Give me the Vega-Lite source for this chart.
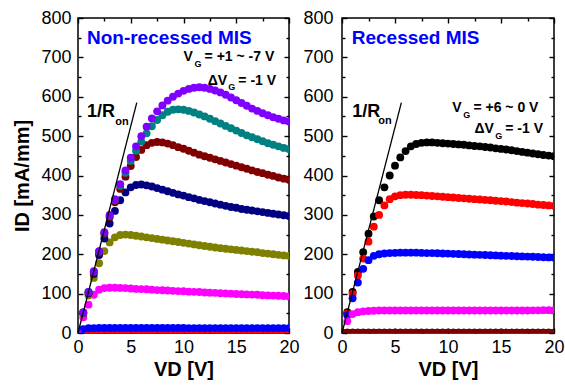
{
"$schema": "https://vega.github.io/schema/vega-lite/v6.json",
"padding": {"left": 12, "top": 8, "right": 0, "bottom": 0},
"spacing": 2,
"config": {
  "font": "Liberation Sans",
  "view": {"stroke": "#000000", "strokeWidth": 1.5},
  "axis": {"labelFont": "Liberation Sans", "labelFontSize": 18, "labelColor": "#000000", "titleFont": "Liberation Sans", "titleFontSize": 20, "titleFontWeight": "bold", "titleColor": "#000000", "tickColor": "#000000", "tickWidth": 1.4, "domain": false, "grid": false, "labelFlush": false, "labelOverlap": false, "zindex": 1}
},
"datasets": {
"nonrecessed": [
{"VG":"-7","VD":0,"ID":0},{"VG":"-7","VD":0.5,"ID":0},{"VG":"-7","VD":1,"ID":0},{"VG":"-7","VD":1.5,"ID":0},{"VG":"-7","VD":2,"ID":0},{"VG":"-7","VD":2.5,"ID":0},{"VG":"-7","VD":3,"ID":0},{"VG":"-7","VD":3.5,"ID":0},{"VG":"-7","VD":4,"ID":0},{"VG":"-7","VD":4.5,"ID":0},{"VG":"-7","VD":5,"ID":0},{"VG":"-7","VD":5.5,"ID":0},{"VG":"-7","VD":6,"ID":0},{"VG":"-7","VD":6.5,"ID":0},{"VG":"-7","VD":7,"ID":0},{"VG":"-7","VD":7.5,"ID":0},{"VG":"-7","VD":8,"ID":0},{"VG":"-7","VD":8.5,"ID":0},{"VG":"-7","VD":9,"ID":0},{"VG":"-7","VD":9.5,"ID":0},{"VG":"-7","VD":10,"ID":0},{"VG":"-7","VD":10.5,"ID":0},{"VG":"-7","VD":11,"ID":0},{"VG":"-7","VD":11.5,"ID":0},{"VG":"-7","VD":12,"ID":0},{"VG":"-7","VD":12.5,"ID":0},{"VG":"-7","VD":13,"ID":0},{"VG":"-7","VD":13.5,"ID":0},{"VG":"-7","VD":14,"ID":0},{"VG":"-7","VD":14.5,"ID":0},{"VG":"-7","VD":15,"ID":0},{"VG":"-7","VD":15.5,"ID":0},{"VG":"-7","VD":16,"ID":0},{"VG":"-7","VD":16.5,"ID":0},{"VG":"-7","VD":17,"ID":0},{"VG":"-7","VD":17.5,"ID":0},{"VG":"-7","VD":18,"ID":0},{"VG":"-7","VD":18.5,"ID":0},{"VG":"-7","VD":19,"ID":0},{"VG":"-7","VD":19.5,"ID":0},{"VG":"-7","VD":20,"ID":0},
{"VG":"-6","VD":0,"ID":0},{"VG":"-6","VD":0.5,"ID":0.5},{"VG":"-6","VD":1,"ID":0.5},{"VG":"-6","VD":1.5,"ID":0.5},{"VG":"-6","VD":2,"ID":0.5},{"VG":"-6","VD":2.5,"ID":0.5},{"VG":"-6","VD":3,"ID":0.5},{"VG":"-6","VD":3.5,"ID":0.5},{"VG":"-6","VD":4,"ID":0.5},{"VG":"-6","VD":4.5,"ID":0.5},{"VG":"-6","VD":5,"ID":0.5},{"VG":"-6","VD":5.5,"ID":0.5},{"VG":"-6","VD":6,"ID":0.5},{"VG":"-6","VD":6.5,"ID":0.5},{"VG":"-6","VD":7,"ID":0.5},{"VG":"-6","VD":7.5,"ID":0.5},{"VG":"-6","VD":8,"ID":0.5},{"VG":"-6","VD":8.5,"ID":0.5},{"VG":"-6","VD":9,"ID":0.5},{"VG":"-6","VD":9.5,"ID":0.5},{"VG":"-6","VD":10,"ID":0.5},{"VG":"-6","VD":10.5,"ID":0.5},{"VG":"-6","VD":11,"ID":0.5},{"VG":"-6","VD":11.5,"ID":0.5},{"VG":"-6","VD":12,"ID":0.5},{"VG":"-6","VD":12.5,"ID":0.5},{"VG":"-6","VD":13,"ID":0.5},{"VG":"-6","VD":13.5,"ID":0.5},{"VG":"-6","VD":14,"ID":0.5},{"VG":"-6","VD":14.5,"ID":0.5},{"VG":"-6","VD":15,"ID":0.5},{"VG":"-6","VD":15.5,"ID":0.5},{"VG":"-6","VD":16,"ID":0.5},{"VG":"-6","VD":16.5,"ID":0.5},{"VG":"-6","VD":17,"ID":0.5},{"VG":"-6","VD":17.5,"ID":0.5},{"VG":"-6","VD":18,"ID":0.5},{"VG":"-6","VD":18.5,"ID":0.5},{"VG":"-6","VD":19,"ID":0.5},{"VG":"-6","VD":19.5,"ID":0.5},{"VG":"-6","VD":20,"ID":0.5},
{"VG":"-5","VD":0,"ID":2},{"VG":"-5","VD":0.5,"ID":10},{"VG":"-5","VD":1,"ID":12},{"VG":"-5","VD":1.5,"ID":12.5},{"VG":"-5","VD":2,"ID":13},{"VG":"-5","VD":2.5,"ID":13},{"VG":"-5","VD":3,"ID":13},{"VG":"-5","VD":3.5,"ID":13},{"VG":"-5","VD":4,"ID":13},{"VG":"-5","VD":4.5,"ID":13},{"VG":"-5","VD":5,"ID":13},{"VG":"-5","VD":5.5,"ID":13},{"VG":"-5","VD":6,"ID":13},{"VG":"-5","VD":6.5,"ID":13},{"VG":"-5","VD":7,"ID":13},{"VG":"-5","VD":7.5,"ID":13},{"VG":"-5","VD":8,"ID":13},{"VG":"-5","VD":8.5,"ID":13},{"VG":"-5","VD":9,"ID":13},{"VG":"-5","VD":9.5,"ID":13},{"VG":"-5","VD":10,"ID":13},{"VG":"-5","VD":10.5,"ID":12.5},{"VG":"-5","VD":11,"ID":12.5},{"VG":"-5","VD":11.5,"ID":12.5},{"VG":"-5","VD":12,"ID":12.5},{"VG":"-5","VD":12.5,"ID":12.5},{"VG":"-5","VD":13,"ID":12.5},{"VG":"-5","VD":13.5,"ID":12.5},{"VG":"-5","VD":14,"ID":12.5},{"VG":"-5","VD":14.5,"ID":12.5},{"VG":"-5","VD":15,"ID":12.5},{"VG":"-5","VD":15.5,"ID":12.5},{"VG":"-5","VD":16,"ID":12.5},{"VG":"-5","VD":16.5,"ID":12.5},{"VG":"-5","VD":17,"ID":12.5},{"VG":"-5","VD":17.5,"ID":12.5},{"VG":"-5","VD":18,"ID":12.5},{"VG":"-5","VD":18.5,"ID":12.5},{"VG":"-5","VD":19,"ID":12.5},{"VG":"-5","VD":19.5,"ID":12.5},{"VG":"-5","VD":20,"ID":12.5},
{"VG":"-4","VD":0,"ID":0},{"VG":"-4","VD":0.5,"ID":40},{"VG":"-4","VD":1,"ID":72},{"VG":"-4","VD":1.5,"ID":97},{"VG":"-4","VD":2,"ID":110},{"VG":"-4","VD":2.5,"ID":114},{"VG":"-4","VD":3,"ID":115},{"VG":"-4","VD":3.5,"ID":115},{"VG":"-4","VD":4,"ID":114.5},{"VG":"-4","VD":4.5,"ID":114},{"VG":"-4","VD":5,"ID":113},{"VG":"-4","VD":5.5,"ID":112},{"VG":"-4","VD":6,"ID":111.5},{"VG":"-4","VD":6.5,"ID":111},{"VG":"-4","VD":7,"ID":110},{"VG":"-4","VD":7.5,"ID":109},{"VG":"-4","VD":8,"ID":108.5},{"VG":"-4","VD":8.5,"ID":108},{"VG":"-4","VD":9,"ID":107},{"VG":"-4","VD":9.5,"ID":106.5},{"VG":"-4","VD":10,"ID":106},{"VG":"-4","VD":10.5,"ID":105},{"VG":"-4","VD":11,"ID":104.5},{"VG":"-4","VD":11.5,"ID":104},{"VG":"-4","VD":12,"ID":103},{"VG":"-4","VD":12.5,"ID":102.5},{"VG":"-4","VD":13,"ID":102},{"VG":"-4","VD":13.5,"ID":101},{"VG":"-4","VD":14,"ID":100.5},{"VG":"-4","VD":14.5,"ID":100},{"VG":"-4","VD":15,"ID":99},{"VG":"-4","VD":15.5,"ID":98.5},{"VG":"-4","VD":16,"ID":98},{"VG":"-4","VD":16.5,"ID":97.5},{"VG":"-4","VD":17,"ID":97},{"VG":"-4","VD":17.5,"ID":96},{"VG":"-4","VD":18,"ID":95.5},{"VG":"-4","VD":18.5,"ID":95},{"VG":"-4","VD":19,"ID":94.5},{"VG":"-4","VD":19.5,"ID":94},{"VG":"-4","VD":20,"ID":93},
{"VG":"-3","VD":0,"ID":0},{"VG":"-3","VD":0.5,"ID":48},{"VG":"-3","VD":1,"ID":95},{"VG":"-3","VD":1.5,"ID":140},{"VG":"-3","VD":2,"ID":177},{"VG":"-3","VD":2.5,"ID":208},{"VG":"-3","VD":3,"ID":230},{"VG":"-3","VD":3.5,"ID":243},{"VG":"-3","VD":4,"ID":249},{"VG":"-3","VD":4.5,"ID":250},{"VG":"-3","VD":5,"ID":249},{"VG":"-3","VD":5.5,"ID":247},{"VG":"-3","VD":6,"ID":245},{"VG":"-3","VD":6.5,"ID":243},{"VG":"-3","VD":7,"ID":241},{"VG":"-3","VD":7.5,"ID":239},{"VG":"-3","VD":8,"ID":237},{"VG":"-3","VD":8.5,"ID":235},{"VG":"-3","VD":9,"ID":233},{"VG":"-3","VD":9.5,"ID":231},{"VG":"-3","VD":10,"ID":229},{"VG":"-3","VD":10.5,"ID":227},{"VG":"-3","VD":11,"ID":225},{"VG":"-3","VD":11.5,"ID":223},{"VG":"-3","VD":12,"ID":221},{"VG":"-3","VD":12.5,"ID":219},{"VG":"-3","VD":13,"ID":217},{"VG":"-3","VD":13.5,"ID":215.5},{"VG":"-3","VD":14,"ID":214},{"VG":"-3","VD":14.5,"ID":212.5},{"VG":"-3","VD":15,"ID":211},{"VG":"-3","VD":15.5,"ID":209.5},{"VG":"-3","VD":16,"ID":208},{"VG":"-3","VD":16.5,"ID":206.5},{"VG":"-3","VD":17,"ID":205},{"VG":"-3","VD":17.5,"ID":203},{"VG":"-3","VD":18,"ID":201.5},{"VG":"-3","VD":18.5,"ID":200},{"VG":"-3","VD":19,"ID":198.5},{"VG":"-3","VD":19.5,"ID":197},{"VG":"-3","VD":20,"ID":196},
{"VG":"-2","VD":0,"ID":0},{"VG":"-2","VD":0.5,"ID":51},{"VG":"-2","VD":1,"ID":101},{"VG":"-2","VD":1.5,"ID":150},{"VG":"-2","VD":2,"ID":198},{"VG":"-2","VD":2.5,"ID":240},{"VG":"-2","VD":3,"ID":278},{"VG":"-2","VD":3.5,"ID":310},{"VG":"-2","VD":4,"ID":337},{"VG":"-2","VD":4.5,"ID":357},{"VG":"-2","VD":5,"ID":370},{"VG":"-2","VD":5.5,"ID":376},{"VG":"-2","VD":6,"ID":377},{"VG":"-2","VD":6.5,"ID":375},{"VG":"-2","VD":7,"ID":372},{"VG":"-2","VD":7.5,"ID":368},{"VG":"-2","VD":8,"ID":364},{"VG":"-2","VD":8.5,"ID":360},{"VG":"-2","VD":9,"ID":356},{"VG":"-2","VD":9.5,"ID":352},{"VG":"-2","VD":10,"ID":349},{"VG":"-2","VD":10.5,"ID":345},{"VG":"-2","VD":11,"ID":342},{"VG":"-2","VD":11.5,"ID":338},{"VG":"-2","VD":12,"ID":335},{"VG":"-2","VD":12.5,"ID":332},{"VG":"-2","VD":13,"ID":329},{"VG":"-2","VD":13.5,"ID":326},{"VG":"-2","VD":14,"ID":323},{"VG":"-2","VD":14.5,"ID":320},{"VG":"-2","VD":15,"ID":318},{"VG":"-2","VD":15.5,"ID":315},{"VG":"-2","VD":16,"ID":313},{"VG":"-2","VD":16.5,"ID":311},{"VG":"-2","VD":17,"ID":309},{"VG":"-2","VD":17.5,"ID":307},{"VG":"-2","VD":18,"ID":305},{"VG":"-2","VD":18.5,"ID":303},{"VG":"-2","VD":19,"ID":301},{"VG":"-2","VD":19.5,"ID":299},{"VG":"-2","VD":20,"ID":297},
{"VG":"-1","VD":0,"ID":0},{"VG":"-1","VD":0.5,"ID":52},{"VG":"-1","VD":1,"ID":103},{"VG":"-1","VD":1.5,"ID":154},{"VG":"-1","VD":2,"ID":204},{"VG":"-1","VD":2.5,"ID":251},{"VG":"-1","VD":3,"ID":294},{"VG":"-1","VD":3.5,"ID":332},{"VG":"-1","VD":4,"ID":366},{"VG":"-1","VD":4.5,"ID":397},{"VG":"-1","VD":5,"ID":424},{"VG":"-1","VD":5.5,"ID":447},{"VG":"-1","VD":6,"ID":465},{"VG":"-1","VD":6.5,"ID":477},{"VG":"-1","VD":7,"ID":483},{"VG":"-1","VD":7.5,"ID":485},{"VG":"-1","VD":8,"ID":484},{"VG":"-1","VD":8.5,"ID":481},{"VG":"-1","VD":9,"ID":477},{"VG":"-1","VD":9.5,"ID":472},{"VG":"-1","VD":10,"ID":468},{"VG":"-1","VD":10.5,"ID":463},{"VG":"-1","VD":11,"ID":458},{"VG":"-1","VD":11.5,"ID":453},{"VG":"-1","VD":12,"ID":449},{"VG":"-1","VD":12.5,"ID":445},{"VG":"-1","VD":13,"ID":441},{"VG":"-1","VD":13.5,"ID":437},{"VG":"-1","VD":14,"ID":433},{"VG":"-1","VD":14.5,"ID":429},{"VG":"-1","VD":15,"ID":425},{"VG":"-1","VD":15.5,"ID":421},{"VG":"-1","VD":16,"ID":417},{"VG":"-1","VD":16.5,"ID":413},{"VG":"-1","VD":17,"ID":409},{"VG":"-1","VD":17.5,"ID":406},{"VG":"-1","VD":18,"ID":402},{"VG":"-1","VD":18.5,"ID":399},{"VG":"-1","VD":19,"ID":395},{"VG":"-1","VD":19.5,"ID":392},{"VG":"-1","VD":20,"ID":389},
{"VG":"0","VD":0,"ID":0},{"VG":"0","VD":0.5,"ID":52},{"VG":"0","VD":1,"ID":104},{"VG":"0","VD":1.5,"ID":156},{"VG":"0","VD":2,"ID":207},{"VG":"0","VD":2.5,"ID":255},{"VG":"0","VD":3,"ID":298},{"VG":"0","VD":3.5,"ID":338},{"VG":"0","VD":4,"ID":374},{"VG":"0","VD":4.5,"ID":407},{"VG":"0","VD":5,"ID":437},{"VG":"0","VD":5.5,"ID":463},{"VG":"0","VD":6,"ID":486},{"VG":"0","VD":6.5,"ID":507},{"VG":"0","VD":7,"ID":525},{"VG":"0","VD":7.5,"ID":541},{"VG":"0","VD":8,"ID":553},{"VG":"0","VD":8.5,"ID":562},{"VG":"0","VD":9,"ID":567},{"VG":"0","VD":9.5,"ID":568},{"VG":"0","VD":10,"ID":567},{"VG":"0","VD":10.5,"ID":564},{"VG":"0","VD":11,"ID":560},{"VG":"0","VD":11.5,"ID":555},{"VG":"0","VD":12,"ID":550},{"VG":"0","VD":12.5,"ID":544},{"VG":"0","VD":13,"ID":538},{"VG":"0","VD":13.5,"ID":532},{"VG":"0","VD":14,"ID":526},{"VG":"0","VD":14.5,"ID":520},{"VG":"0","VD":15,"ID":514},{"VG":"0","VD":15.5,"ID":508},{"VG":"0","VD":16,"ID":502},{"VG":"0","VD":16.5,"ID":497},{"VG":"0","VD":17,"ID":492},{"VG":"0","VD":17.5,"ID":487},{"VG":"0","VD":18,"ID":482},{"VG":"0","VD":18.5,"ID":478},{"VG":"0","VD":19,"ID":474},{"VG":"0","VD":19.5,"ID":470},{"VG":"0","VD":20,"ID":467},
{"VG":"+1","VD":0,"ID":0},{"VG":"+1","VD":0.5,"ID":52},{"VG":"+1","VD":1,"ID":104},{"VG":"+1","VD":1.5,"ID":157},{"VG":"+1","VD":2,"ID":208},{"VG":"+1","VD":2.5,"ID":256},{"VG":"+1","VD":3,"ID":300},{"VG":"+1","VD":3.5,"ID":340},{"VG":"+1","VD":4,"ID":378},{"VG":"+1","VD":4.5,"ID":413},{"VG":"+1","VD":5,"ID":445},{"VG":"+1","VD":5.5,"ID":474},{"VG":"+1","VD":6,"ID":500},{"VG":"+1","VD":6.5,"ID":524},{"VG":"+1","VD":7,"ID":545},{"VG":"+1","VD":7.5,"ID":563},{"VG":"+1","VD":8,"ID":578},{"VG":"+1","VD":8.5,"ID":590},{"VG":"+1","VD":9,"ID":600},{"VG":"+1","VD":9.5,"ID":608},{"VG":"+1","VD":10,"ID":615},{"VG":"+1","VD":10.5,"ID":620},{"VG":"+1","VD":11,"ID":623},{"VG":"+1","VD":11.5,"ID":624},{"VG":"+1","VD":12,"ID":623},{"VG":"+1","VD":12.5,"ID":620},{"VG":"+1","VD":13,"ID":616},{"VG":"+1","VD":13.5,"ID":611},{"VG":"+1","VD":14,"ID":605},{"VG":"+1","VD":14.5,"ID":598},{"VG":"+1","VD":15,"ID":591},{"VG":"+1","VD":15.5,"ID":584},{"VG":"+1","VD":16,"ID":577},{"VG":"+1","VD":16.5,"ID":570},{"VG":"+1","VD":17,"ID":564},{"VG":"+1","VD":17.5,"ID":558},{"VG":"+1","VD":18,"ID":553},{"VG":"+1","VD":18.5,"ID":548},{"VG":"+1","VD":19,"ID":544},{"VG":"+1","VD":19.5,"ID":540},{"VG":"+1","VD":20,"ID":537}
],
"recessed": [
{"VG":"+6","VD":0,"ID":0},{"VG":"+6","VD":0.5,"ID":53},{"VG":"+6","VD":1,"ID":104},{"VG":"+6","VD":1.5,"ID":155},{"VG":"+6","VD":2,"ID":205},{"VG":"+6","VD":2.5,"ID":252},{"VG":"+6","VD":3,"ID":296},{"VG":"+6","VD":3.5,"ID":337},{"VG":"+6","VD":4,"ID":370},{"VG":"+6","VD":4.5,"ID":400},{"VG":"+6","VD":5,"ID":425},{"VG":"+6","VD":5.5,"ID":446},{"VG":"+6","VD":6,"ID":462},{"VG":"+6","VD":6.5,"ID":474},{"VG":"+6","VD":7,"ID":480},{"VG":"+6","VD":7.5,"ID":483},{"VG":"+6","VD":8,"ID":484},{"VG":"+6","VD":8.5,"ID":484},{"VG":"+6","VD":9,"ID":483},{"VG":"+6","VD":9.5,"ID":482},{"VG":"+6","VD":10,"ID":481},{"VG":"+6","VD":10.5,"ID":480},{"VG":"+6","VD":11,"ID":479},{"VG":"+6","VD":11.5,"ID":478},{"VG":"+6","VD":12,"ID":476.5},{"VG":"+6","VD":12.5,"ID":475},{"VG":"+6","VD":13,"ID":474},{"VG":"+6","VD":13.5,"ID":472.5},{"VG":"+6","VD":14,"ID":471},{"VG":"+6","VD":14.5,"ID":469},{"VG":"+6","VD":15,"ID":467.5},{"VG":"+6","VD":15.5,"ID":466},{"VG":"+6","VD":16,"ID":464},{"VG":"+6","VD":16.5,"ID":462},{"VG":"+6","VD":17,"ID":460},{"VG":"+6","VD":17.5,"ID":458},{"VG":"+6","VD":18,"ID":456},{"VG":"+6","VD":18.5,"ID":454},{"VG":"+6","VD":19,"ID":452},{"VG":"+6","VD":19.5,"ID":450.5},{"VG":"+6","VD":20,"ID":449},
{"VG":"+5","VD":0,"ID":0},{"VG":"+5","VD":0.5,"ID":50},{"VG":"+5","VD":1,"ID":99},{"VG":"+5","VD":1.5,"ID":146},{"VG":"+5","VD":2,"ID":189},{"VG":"+5","VD":2.5,"ID":232},{"VG":"+5","VD":3,"ID":270},{"VG":"+5","VD":3.5,"ID":300},{"VG":"+5","VD":4,"ID":324},{"VG":"+5","VD":4.5,"ID":340},{"VG":"+5","VD":5,"ID":347},{"VG":"+5","VD":5.5,"ID":350},{"VG":"+5","VD":6,"ID":351},{"VG":"+5","VD":6.5,"ID":351},{"VG":"+5","VD":7,"ID":350.5},{"VG":"+5","VD":7.5,"ID":350},{"VG":"+5","VD":8,"ID":349},{"VG":"+5","VD":8.5,"ID":348},{"VG":"+5","VD":9,"ID":347},{"VG":"+5","VD":9.5,"ID":346},{"VG":"+5","VD":10,"ID":345},{"VG":"+5","VD":10.5,"ID":344},{"VG":"+5","VD":11,"ID":343},{"VG":"+5","VD":11.5,"ID":342},{"VG":"+5","VD":12,"ID":341},{"VG":"+5","VD":12.5,"ID":340},{"VG":"+5","VD":13,"ID":339},{"VG":"+5","VD":13.5,"ID":338},{"VG":"+5","VD":14,"ID":337},{"VG":"+5","VD":14.5,"ID":336},{"VG":"+5","VD":15,"ID":335},{"VG":"+5","VD":15.5,"ID":334},{"VG":"+5","VD":16,"ID":332.5},{"VG":"+5","VD":16.5,"ID":331},{"VG":"+5","VD":17,"ID":330},{"VG":"+5","VD":17.5,"ID":329},{"VG":"+5","VD":18,"ID":327.5},{"VG":"+5","VD":18.5,"ID":326},{"VG":"+5","VD":19,"ID":325},{"VG":"+5","VD":19.5,"ID":324},{"VG":"+5","VD":20,"ID":323},
{"VG":"+4","VD":0,"ID":0},{"VG":"+4","VD":0.5,"ID":45},{"VG":"+4","VD":1,"ID":88},{"VG":"+4","VD":1.5,"ID":128},{"VG":"+4","VD":2,"ID":163},{"VG":"+4","VD":2.5,"ID":185},{"VG":"+4","VD":3,"ID":196},{"VG":"+4","VD":3.5,"ID":200},{"VG":"+4","VD":4,"ID":202},{"VG":"+4","VD":4.5,"ID":203},{"VG":"+4","VD":5,"ID":203.5},{"VG":"+4","VD":5.5,"ID":204},{"VG":"+4","VD":6,"ID":204},{"VG":"+4","VD":6.5,"ID":204},{"VG":"+4","VD":7,"ID":204},{"VG":"+4","VD":7.5,"ID":203.5},{"VG":"+4","VD":8,"ID":203},{"VG":"+4","VD":8.5,"ID":203},{"VG":"+4","VD":9,"ID":202.5},{"VG":"+4","VD":9.5,"ID":202},{"VG":"+4","VD":10,"ID":201.5},{"VG":"+4","VD":10.5,"ID":201},{"VG":"+4","VD":11,"ID":200.5},{"VG":"+4","VD":11.5,"ID":200},{"VG":"+4","VD":12,"ID":199.5},{"VG":"+4","VD":12.5,"ID":199},{"VG":"+4","VD":13,"ID":198.5},{"VG":"+4","VD":13.5,"ID":198},{"VG":"+4","VD":14,"ID":197.5},{"VG":"+4","VD":14.5,"ID":197},{"VG":"+4","VD":15,"ID":196.5},{"VG":"+4","VD":15.5,"ID":196},{"VG":"+4","VD":16,"ID":195.5},{"VG":"+4","VD":16.5,"ID":195},{"VG":"+4","VD":17,"ID":194.5},{"VG":"+4","VD":17.5,"ID":194},{"VG":"+4","VD":18,"ID":193.5},{"VG":"+4","VD":18.5,"ID":193},{"VG":"+4","VD":19,"ID":192.5},{"VG":"+4","VD":19.5,"ID":192},{"VG":"+4","VD":20,"ID":191.5},
{"VG":"+3","VD":0,"ID":0},{"VG":"+3","VD":0.5,"ID":30},{"VG":"+3","VD":1,"ID":48},{"VG":"+3","VD":1.5,"ID":53},{"VG":"+3","VD":2,"ID":55},{"VG":"+3","VD":2.5,"ID":56},{"VG":"+3","VD":3,"ID":56.5},{"VG":"+3","VD":3.5,"ID":57},{"VG":"+3","VD":4,"ID":57},{"VG":"+3","VD":4.5,"ID":57},{"VG":"+3","VD":5,"ID":57},{"VG":"+3","VD":5.5,"ID":57},{"VG":"+3","VD":6,"ID":57},{"VG":"+3","VD":6.5,"ID":57},{"VG":"+3","VD":7,"ID":57},{"VG":"+3","VD":7.5,"ID":57},{"VG":"+3","VD":8,"ID":57},{"VG":"+3","VD":8.5,"ID":57},{"VG":"+3","VD":9,"ID":57},{"VG":"+3","VD":9.5,"ID":57},{"VG":"+3","VD":10,"ID":57},{"VG":"+3","VD":10.5,"ID":57},{"VG":"+3","VD":11,"ID":57},{"VG":"+3","VD":11.5,"ID":57},{"VG":"+3","VD":12,"ID":57},{"VG":"+3","VD":12.5,"ID":57},{"VG":"+3","VD":13,"ID":57},{"VG":"+3","VD":13.5,"ID":57},{"VG":"+3","VD":14,"ID":57},{"VG":"+3","VD":14.5,"ID":57},{"VG":"+3","VD":15,"ID":57},{"VG":"+3","VD":15.5,"ID":57},{"VG":"+3","VD":16,"ID":57},{"VG":"+3","VD":16.5,"ID":57},{"VG":"+3","VD":17,"ID":57},{"VG":"+3","VD":17.5,"ID":57},{"VG":"+3","VD":18,"ID":57.5},{"VG":"+3","VD":18.5,"ID":57.5},{"VG":"+3","VD":19,"ID":58},{"VG":"+3","VD":19.5,"ID":58},{"VG":"+3","VD":20,"ID":58},
{"VG":"+2","VD":0,"ID":0},{"VG":"+2","VD":0.5,"ID":0.5},{"VG":"+2","VD":1,"ID":0.5},{"VG":"+2","VD":1.5,"ID":0.5},{"VG":"+2","VD":2,"ID":0.5},{"VG":"+2","VD":2.5,"ID":0.5},{"VG":"+2","VD":3,"ID":0.5},{"VG":"+2","VD":3.5,"ID":0.5},{"VG":"+2","VD":4,"ID":0.5},{"VG":"+2","VD":4.5,"ID":0.5},{"VG":"+2","VD":5,"ID":0.5},{"VG":"+2","VD":5.5,"ID":0.5},{"VG":"+2","VD":6,"ID":0.5},{"VG":"+2","VD":6.5,"ID":0.5},{"VG":"+2","VD":7,"ID":0.5},{"VG":"+2","VD":7.5,"ID":0.5},{"VG":"+2","VD":8,"ID":0.5},{"VG":"+2","VD":8.5,"ID":0.5},{"VG":"+2","VD":9,"ID":0.5},{"VG":"+2","VD":9.5,"ID":0.5},{"VG":"+2","VD":10,"ID":0.5},{"VG":"+2","VD":10.5,"ID":0.5},{"VG":"+2","VD":11,"ID":0.5},{"VG":"+2","VD":11.5,"ID":0.5},{"VG":"+2","VD":12,"ID":0.5},{"VG":"+2","VD":12.5,"ID":0.5},{"VG":"+2","VD":13,"ID":0.5},{"VG":"+2","VD":13.5,"ID":0.5},{"VG":"+2","VD":14,"ID":0.5},{"VG":"+2","VD":14.5,"ID":0.5},{"VG":"+2","VD":15,"ID":0.5},{"VG":"+2","VD":15.5,"ID":0.5},{"VG":"+2","VD":16,"ID":0.5},{"VG":"+2","VD":16.5,"ID":0.5},{"VG":"+2","VD":17,"ID":0.5},{"VG":"+2","VD":17.5,"ID":0.5},{"VG":"+2","VD":18,"ID":0.5},{"VG":"+2","VD":18.5,"ID":0.5},{"VG":"+2","VD":19,"ID":0.5},{"VG":"+2","VD":19.5,"ID":0.5},{"VG":"+2","VD":20,"ID":0.5},
{"VG":"+1","VD":0,"ID":0},{"VG":"+1","VD":0.5,"ID":0.5},{"VG":"+1","VD":1,"ID":0.5},{"VG":"+1","VD":1.5,"ID":0.5},{"VG":"+1","VD":2,"ID":0.5},{"VG":"+1","VD":2.5,"ID":0.5},{"VG":"+1","VD":3,"ID":0.5},{"VG":"+1","VD":3.5,"ID":0.5},{"VG":"+1","VD":4,"ID":0.5},{"VG":"+1","VD":4.5,"ID":0.5},{"VG":"+1","VD":5,"ID":0.5},{"VG":"+1","VD":5.5,"ID":0.5},{"VG":"+1","VD":6,"ID":0.5},{"VG":"+1","VD":6.5,"ID":0.5},{"VG":"+1","VD":7,"ID":0.5},{"VG":"+1","VD":7.5,"ID":0.5},{"VG":"+1","VD":8,"ID":0.5},{"VG":"+1","VD":8.5,"ID":0.5},{"VG":"+1","VD":9,"ID":0.5},{"VG":"+1","VD":9.5,"ID":0.5},{"VG":"+1","VD":10,"ID":0.5},{"VG":"+1","VD":10.5,"ID":0.5},{"VG":"+1","VD":11,"ID":0.5},{"VG":"+1","VD":11.5,"ID":0.5},{"VG":"+1","VD":12,"ID":0.5},{"VG":"+1","VD":12.5,"ID":0.5},{"VG":"+1","VD":13,"ID":0.5},{"VG":"+1","VD":13.5,"ID":0.5},{"VG":"+1","VD":14,"ID":0.5},{"VG":"+1","VD":14.5,"ID":0.5},{"VG":"+1","VD":15,"ID":0.5},{"VG":"+1","VD":15.5,"ID":0.5},{"VG":"+1","VD":16,"ID":0.5},{"VG":"+1","VD":16.5,"ID":0.5},{"VG":"+1","VD":17,"ID":0.5},{"VG":"+1","VD":17.5,"ID":0.5},{"VG":"+1","VD":18,"ID":0.5},{"VG":"+1","VD":18.5,"ID":0.5},{"VG":"+1","VD":19,"ID":0.5},{"VG":"+1","VD":19.5,"ID":0.5},{"VG":"+1","VD":20,"ID":0.5},
{"VG":"0","VD":0,"ID":0},{"VG":"0","VD":0.5,"ID":0.5},{"VG":"0","VD":1,"ID":0.5},{"VG":"0","VD":1.5,"ID":0.5},{"VG":"0","VD":2,"ID":0.5},{"VG":"0","VD":2.5,"ID":0.5},{"VG":"0","VD":3,"ID":0.5},{"VG":"0","VD":3.5,"ID":0.5},{"VG":"0","VD":4,"ID":0.5},{"VG":"0","VD":4.5,"ID":0.5},{"VG":"0","VD":5,"ID":0.5},{"VG":"0","VD":5.5,"ID":0.5},{"VG":"0","VD":6,"ID":0.5},{"VG":"0","VD":6.5,"ID":0.5},{"VG":"0","VD":7,"ID":0.5},{"VG":"0","VD":7.5,"ID":0.5},{"VG":"0","VD":8,"ID":0.5},{"VG":"0","VD":8.5,"ID":0.5},{"VG":"0","VD":9,"ID":0.5},{"VG":"0","VD":9.5,"ID":0.5},{"VG":"0","VD":10,"ID":0.5},{"VG":"0","VD":10.5,"ID":0.5},{"VG":"0","VD":11,"ID":0.5},{"VG":"0","VD":11.5,"ID":0.5},{"VG":"0","VD":12,"ID":0.5},{"VG":"0","VD":12.5,"ID":0.5},{"VG":"0","VD":13,"ID":0.5},{"VG":"0","VD":13.5,"ID":0.5},{"VG":"0","VD":14,"ID":0.5},{"VG":"0","VD":14.5,"ID":0.5},{"VG":"0","VD":15,"ID":0.5},{"VG":"0","VD":15.5,"ID":0.5},{"VG":"0","VD":16,"ID":0.5},{"VG":"0","VD":16.5,"ID":0.5},{"VG":"0","VD":17,"ID":0.5},{"VG":"0","VD":17.5,"ID":0.5},{"VG":"0","VD":18,"ID":0.5},{"VG":"0","VD":18.5,"ID":0.5},{"VG":"0","VD":19,"ID":0.5},{"VG":"0","VD":19.5,"ID":0.5},{"VG":"0","VD":20,"ID":0.5}
]
},
"hconcat": [
{
 "width": 211, "height": 315,
 "resolve": {"axis": {"x": "independent", "y": "independent"}},
 "layer": [
  {"data": {"name": "nonrecessed"},
   "mark": {"type": "circle", "size": 62, "opacity": 1, "clip": true},
   "encoding": {
    "x": {"field": "VD", "type": "quantitative", "scale": {"domain": [0, 20], "nice": false},
      "axis": {"orient": "bottom", "values": [0,2.5,5,7.5,10,12.5,15,17.5,20], "labelExpr": "datum.value % 5 === 0 ? datum.label : ''", "tickSize": {"condition": {"test": "datum.value % 5 === 0", "value": -5}, "value": -3}, "labelPadding": 10, "title": "VD [V]", "titlePadding": 1}},
    "y": {"field": "ID", "type": "quantitative", "scale": {"domain": [0, 800], "nice": false},
      "axis": {"orient": "left", "values": [0,50,100,150,200,250,300,350,400,450,500,550,600,650,700,750,800], "labelExpr": "datum.value % 100 === 0 ? datum.label : ''", "tickSize": {"condition": {"test": "datum.value % 100 === 0", "value": -5}, "value": -3}, "labelPadding": 12, "title": "ID [mA/mm]", "titlePadding": 8}},
    "color": {"field": "VG", "type": "nominal", "legend": null, "scale": {"domain": ["-7","-6","-5","-4","-3","-2","-1","0","+1"], "range": ["#000000","#ff0000","#0000ff","#ff00ff","#808000","#000080","#800000","#008080","#8000ff"]}}
   }},
  {"data": {"values": [{"VD": 0, "ID": 0}, {"VD": 5.57, "ID": 585}]},
   "mark": {"type": "line", "color": "#000000", "strokeWidth": 1.3},
   "encoding": {
    "x": {"field": "VD", "type": "quantitative", "scale": {"domain": [0, 20], "nice": false},
      "axis": {"orient": "top", "values": [0,2.5,5,7.5,10,12.5,15,17.5,20], "labels": false, "title": null, "tickSize": {"condition": {"test": "datum.value % 5 === 0", "value": -5}, "value": -3}}},
    "y": {"field": "ID", "type": "quantitative", "scale": {"domain": [0, 800], "nice": false},
      "axis": {"orient": "right", "values": [0,50,100,150,200,250,300,350,400,450,500,550,600,650,700,750,800], "labels": false, "title": null, "tickSize": {"condition": {"test": "datum.value % 100 === 0", "value": -5}, "value": -3}}}
   }},
  {"data": {"values": [{}]}, "mark": {"type": "text", "text": "Non-recessed MIS", "align": "left", "baseline": "alphabetic", "fontSize": 19, "fontWeight": "bold", "color": "#0000ff"},
   "encoding": {"x": {"datum": 0.85, "type": "quantitative", "axis": null}, "y": {"datum": 735, "type": "quantitative", "axis": null}}},
  {"data": {"values": [{}]}, "mark": {"type": "text", "text": "V", "align": "left", "baseline": "alphabetic", "fontSize": 14, "fontWeight": "bold", "color": "#000000"},
   "encoding": {"x": {"datum": 10.0, "type": "quantitative", "axis": null}, "y": {"datum": 690, "type": "quantitative", "axis": null}}},
  {"data": {"values": [{}]}, "mark": {"type": "text", "text": "G", "align": "left", "baseline": "alphabetic", "fontSize": 9, "fontWeight": "bold", "color": "#000000"},
   "encoding": {"x": {"datum": 11.05, "type": "quantitative", "axis": null}, "y": {"datum": 675, "type": "quantitative", "axis": null}}},
  {"data": {"values": [{}]}, "mark": {"type": "text", "text": "= +1 ~ -7 V", "align": "left", "baseline": "alphabetic", "fontSize": 14, "fontWeight": "bold", "color": "#000000"},
   "encoding": {"x": {"datum": 12.0, "type": "quantitative", "axis": null}, "y": {"datum": 690, "type": "quantitative", "axis": null}}},
  {"data": {"values": [{}]}, "mark": {"type": "text", "text": "ΔV", "align": "left", "baseline": "alphabetic", "fontSize": 14, "fontWeight": "bold", "color": "#000000"},
   "encoding": {"x": {"datum": 12.3, "type": "quantitative", "axis": null}, "y": {"datum": 631, "type": "quantitative", "axis": null}}},
  {"data": {"values": [{}]}, "mark": {"type": "text", "text": "G", "align": "left", "baseline": "alphabetic", "fontSize": 9, "fontWeight": "bold", "color": "#000000"},
   "encoding": {"x": {"datum": 14.25, "type": "quantitative", "axis": null}, "y": {"datum": 616, "type": "quantitative", "axis": null}}},
  {"data": {"values": [{}]}, "mark": {"type": "text", "text": "= -1 V", "align": "left", "baseline": "alphabetic", "fontSize": 14, "fontWeight": "bold", "color": "#000000"},
   "encoding": {"x": {"datum": 15.2, "type": "quantitative", "axis": null}, "y": {"datum": 631, "type": "quantitative", "axis": null}}},
  {"data": {"values": [{}]}, "mark": {"type": "text", "text": "1/R", "align": "left", "baseline": "alphabetic", "fontSize": 18, "fontWeight": "bold", "color": "#000000"},
   "encoding": {"x": {"datum": 0.85, "type": "quantitative", "axis": null}, "y": {"datum": 548, "type": "quantitative", "axis": null}}},
  {"data": {"values": [{}]}, "mark": {"type": "text", "text": "on", "align": "left", "baseline": "alphabetic", "fontSize": 11, "fontWeight": "bold", "color": "#000000"},
   "encoding": {"x": {"datum": 3.54, "type": "quantitative", "axis": null}, "y": {"datum": 529, "type": "quantitative", "axis": null}}}
 ]
},
{
 "width": 212, "height": 315,
 "resolve": {"axis": {"x": "independent", "y": "independent"}},
 "layer": [
  {"data": {"name": "recessed"},
   "mark": {"type": "circle", "size": 62, "opacity": 1, "clip": true},
   "encoding": {
    "x": {"field": "VD", "type": "quantitative", "scale": {"domain": [0, 20], "nice": false},
      "axis": {"orient": "bottom", "values": [0,2.5,5,7.5,10,12.5,15,17.5,20], "labelExpr": "datum.value % 5 === 0 ? datum.label : ''", "tickSize": {"condition": {"test": "datum.value % 5 === 0", "value": -5}, "value": -3}, "labelPadding": 10, "title": "VD [V]", "titlePadding": 1}},
    "y": {"field": "ID", "type": "quantitative", "scale": {"domain": [0, 800], "nice": false},
      "axis": {"orient": "left", "values": [0,50,100,150,200,250,300,350,400,450,500,550,600,650,700,750,800], "labelExpr": "datum.value % 100 === 0 ? datum.label : ''", "tickSize": {"condition": {"test": "datum.value % 100 === 0", "value": -5}, "value": -3}, "labelPadding": 14, "title": null}},
    "color": {"field": "VG", "type": "nominal", "legend": null, "scale": {"domain": ["+6","+5","+4","+3","+2","+1","0"], "range": ["#000000","#ff0000","#0000ff","#ff00ff","#808000","#000080","#800000"]}}
   }},
  {"data": {"values": [{"VD": 0, "ID": 0}, {"VD": 5.6, "ID": 585}]},
   "mark": {"type": "line", "color": "#000000", "strokeWidth": 1.3},
   "encoding": {
    "x": {"field": "VD", "type": "quantitative", "scale": {"domain": [0, 20], "nice": false},
      "axis": {"orient": "top", "values": [0,2.5,5,7.5,10,12.5,15,17.5,20], "labels": false, "title": null, "tickSize": {"condition": {"test": "datum.value % 5 === 0", "value": -5}, "value": -3}}},
    "y": {"field": "ID", "type": "quantitative", "scale": {"domain": [0, 800], "nice": false},
      "axis": {"orient": "right", "values": [0,50,100,150,200,250,300,350,400,450,500,550,600,650,700,750,800], "labels": false, "title": null, "tickSize": {"condition": {"test": "datum.value % 100 === 0", "value": -5}, "value": -3}}}
   }},
  {"data": {"values": [{}]}, "mark": {"type": "text", "text": "Recessed MIS", "align": "left", "baseline": "alphabetic", "fontSize": 19, "fontWeight": "bold", "color": "#0000ff"},
   "encoding": {"x": {"datum": 0.92, "type": "quantitative", "axis": null}, "y": {"datum": 735, "type": "quantitative", "axis": null}}},
  {"data": {"values": [{}]}, "mark": {"type": "text", "text": "V", "align": "left", "baseline": "alphabetic", "fontSize": 14, "fontWeight": "bold", "color": "#000000"},
   "encoding": {"x": {"datum": 10.4, "type": "quantitative", "axis": null}, "y": {"datum": 562, "type": "quantitative", "axis": null}}},
  {"data": {"values": [{}]}, "mark": {"type": "text", "text": "G", "align": "left", "baseline": "alphabetic", "fontSize": 9, "fontWeight": "bold", "color": "#000000"},
   "encoding": {"x": {"datum": 11.45, "type": "quantitative", "axis": null}, "y": {"datum": 547, "type": "quantitative", "axis": null}}},
  {"data": {"values": [{}]}, "mark": {"type": "text", "text": "= +6 ~ 0 V", "align": "left", "baseline": "alphabetic", "fontSize": 14, "fontWeight": "bold", "color": "#000000"},
   "encoding": {"x": {"datum": 12.4, "type": "quantitative", "axis": null}, "y": {"datum": 562, "type": "quantitative", "axis": null}}},
  {"data": {"values": [{}]}, "mark": {"type": "text", "text": "ΔV", "align": "left", "baseline": "alphabetic", "fontSize": 14, "fontWeight": "bold", "color": "#000000"},
   "encoding": {"x": {"datum": 12.5, "type": "quantitative", "axis": null}, "y": {"datum": 507, "type": "quantitative", "axis": null}}},
  {"data": {"values": [{}]}, "mark": {"type": "text", "text": "G", "align": "left", "baseline": "alphabetic", "fontSize": 9, "fontWeight": "bold", "color": "#000000"},
   "encoding": {"x": {"datum": 14.45, "type": "quantitative", "axis": null}, "y": {"datum": 492, "type": "quantitative", "axis": null}}},
  {"data": {"values": [{}]}, "mark": {"type": "text", "text": "= -1 V", "align": "left", "baseline": "alphabetic", "fontSize": 14, "fontWeight": "bold", "color": "#000000"},
   "encoding": {"x": {"datum": 15.4, "type": "quantitative", "axis": null}, "y": {"datum": 507, "type": "quantitative", "axis": null}}},
  {"data": {"values": [{}]}, "mark": {"type": "text", "text": "1/R", "align": "left", "baseline": "alphabetic", "fontSize": 18, "fontWeight": "bold", "color": "#000000"},
   "encoding": {"x": {"datum": 0.97, "type": "quantitative", "axis": null}, "y": {"datum": 548, "type": "quantitative", "axis": null}}},
  {"data": {"values": [{}]}, "mark": {"type": "text", "text": "on", "align": "left", "baseline": "alphabetic", "fontSize": 11, "fontWeight": "bold", "color": "#000000"},
   "encoding": {"x": {"datum": 3.43, "type": "quantitative", "axis": null}, "y": {"datum": 531, "type": "quantitative", "axis": null}}}
 ]
}
],
"resolve": {"scale": {"color": "independent"}}
}
